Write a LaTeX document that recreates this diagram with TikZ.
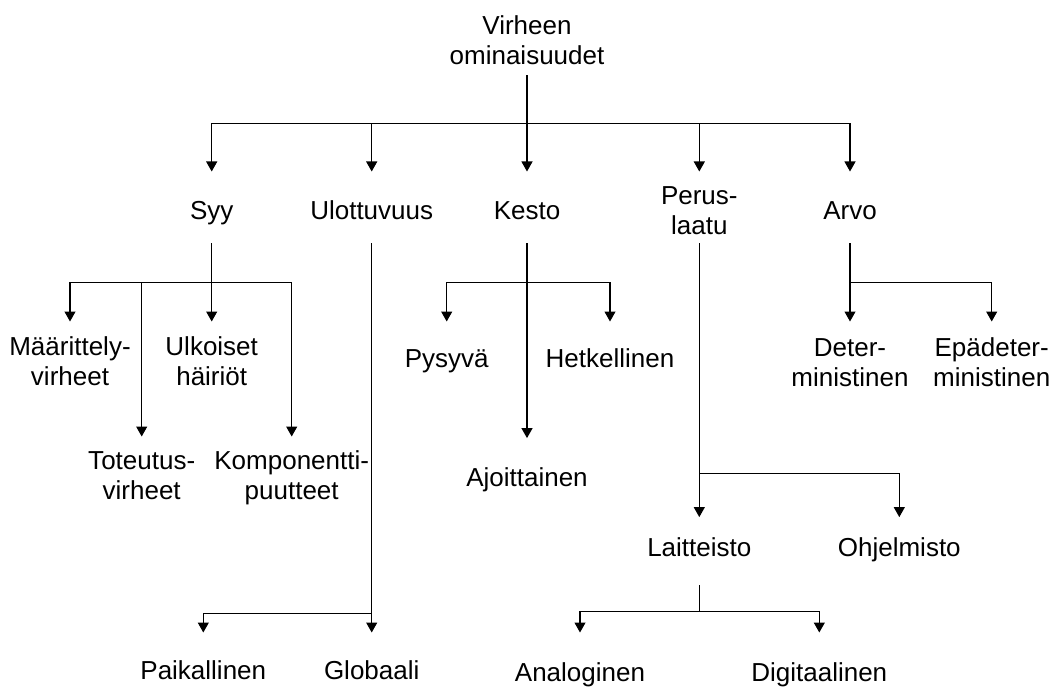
\documentclass[tikz,border=0pt]{standalone}
\usepackage{fontspec}
\setmainfont{Liberation Sans}
\usetikzlibrary{arrows.meta}
% two centred lines, baseline on the first one
\newcommand\twoline[2]{\begin{tabular}[t]{@{}c@{}}#1\\#2\end{tabular}}
\begin{document}
\begin{tikzpicture}[x=1pt,y=-1pt,
  font=\fontsize{26}{30}\selectfont,
  lbl/.style 2 args={anchor=base,inner xsep=0pt,inner ysep=0pt,text height=#1,text depth=#2},
  wire/.style={line width=1.1pt},
  arr/.style={wire,-{Triangle[width=11pt,length=10pt]}}]
\useasboundingbox (0,0) rectangle (1054,687);

% root
\node[lbl={40pt}{40.7pt}] (root) at (527,34.3) {\twoline{Virheen}{ominaisuudet}};

% first level
\node[lbl={47.6pt}{23.7pt}] (syy)   at (211.7,219.3) {Syy};
\node[lbl={47.6pt}{23.7pt}] (ulo)   at (371.7,219.3) {Ulottuvuus};
\node[lbl={47.6pt}{23.7pt}] (kesto) at (527,219.3)   {Kesto};
\node[lbl={32.6pt}{38.7pt}] (perus) at (699.3,204.3) {\twoline{Perus-}{laatu}};
\node[lbl={47.6pt}{23.7pt}] (arvo)  at (850,219.3)   {Arvo};

% Syy
\node[lbl={33.6pt}{40pt}] (maar) at (70,355.3)    {\twoline{Määrittely-}{virheet}};
\node[lbl={33.6pt}{40pt}] (ulk)  at (211.7,355.3) {\twoline{Ulkoiset}{häiriöt}};
\node[lbl={32.6pt}{40pt}] (tot)  at (141.7,469.3) {\twoline{Toteutus-}{virheet}};
\node[lbl={32.6pt}{40pt}] (komp) at (291.7,469.3) {\twoline{Komponentti-}{puutteet}};

% Ulottuvuus
\node[lbl={46.6pt}{10pt}] (paik) at (203.3,679.3) {Paikallinen};
\node[lbl={46.6pt}{10pt}] (glob) at (371.7,679.3) {Globaali};

% Kesto
\node[lbl={45.6pt}{10pt}] (pys)  at (446.7,367.3) {Pysyvä};
\node[lbl={45.6pt}{10pt}] (hetk) at (610,367.3)   {Hetkellinen};
\node[lbl={47.7pt}{10pt}] (ajo)  at (527,486)     {Ajoittainen};

% Perus-laatu
\node[lbl={38.7pt}{29pt}] (lait) at (699.3,556) {Laitteisto};
\node[lbl={38.7pt}{10pt}] (ohj)  at (899.3,556) {Ohjelmisto};
\node[lbl={48.3pt}{10pt}] (ana)  at (580,681)   {Analoginen};
\node[lbl={48.3pt}{10pt}] (dig)  at (819.3,681) {Digitaalinen};

% Arvo
\node[lbl={34.3pt}{40pt}] (det) at (850,356)   {\twoline{Deter-}{ministinen}};
\node[lbl={34.3pt}{40pt}] (epa) at (991.7,356) {\twoline{Epädeter-}{ministinen}};

% branching points
\coordinate (b0) at (527,123.3);
\coordinate (b1) at (211.7,282.7);
\coordinate (b2) at (371.7,613.3);
\coordinate (b3) at (527,282.7);
\coordinate (b4) at (699.3,473.3);
\coordinate (b5) at (699.3,611.7);
\coordinate (b6) at (850,282.7);

% connectors
\draw[wire] (root.south) -- (b0);
\draw[arr] (b0) -| (syy.north);
\draw[arr] (b0) -| (ulo.north);
\draw[arr] (b0) -- (kesto.north);
\draw[arr] (b0) -| (perus.north);
\draw[arr] (b0) -| (arvo.north);

\draw[arr] (syy.south) -- (ulk.north);
\draw[arr] (b1) -| (maar.north);
\draw[arr] (b1) -| (tot.north);
\draw[arr] (b1) -| (komp.north);

\draw[arr] (ulo.south) -- (glob.north);
\draw[arr] (b2) -| (paik.north);

\draw[arr] (kesto.south) -- (ajo.north);
\draw[arr] (b3) -| (pys.north);
\draw[arr] (b3) -| (hetk.north);

\draw[arr] (perus.south) -- (lait.north);
\draw[arr] (b4) -| (ohj.north);

\draw[wire] (lait.south) -- (b5);
\draw[arr] (b5) -| (ana.north);
\draw[arr] (b5) -| (dig.north);

\draw[arr] (arvo.south) -- (det.north);
\draw[arr] (b6) -| (epa.north);
\end{tikzpicture}
\end{document}
